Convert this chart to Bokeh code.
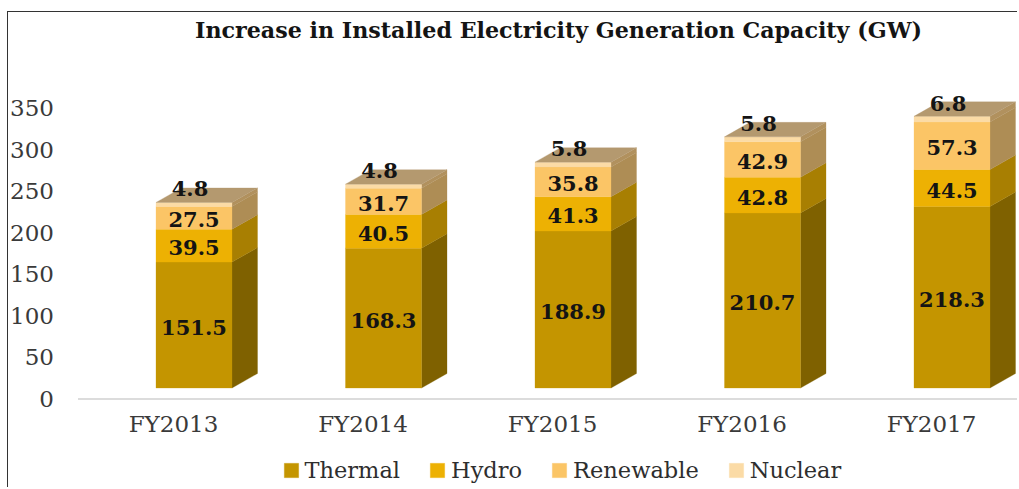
from bokeh.plotting import figure
from bokeh.models import (ColumnDataSource, FixedTicker, Title, Legend, LegendItem, Range1d)
from bokeh.embed import file_html
from bokeh.resources import INLINE
from bokeh.core.properties import value

# ---- data ----
categories = ["FY2013", "FY2014", "FY2015", "FY2016", "FY2017"]
thermal = [151.5, 168.3, 188.9, 210.7, 218.3]
hydro = [39.5, 40.5, 41.3, 42.8, 44.5]
renewable = [27.5, 31.7, 35.8, 42.9, 57.3]
nuclear = [4.8, 4.8, 5.8, 5.8, 6.8]
series_names = ["Thermal", "Hydro", "Renewable", "Nuclear"]
y_ticks = [0, 50, 100, 150, 200, 250, 300, 350]
title_text = "Increase in Installed Electricity Generation Capacity (GW)"

front_colors = ["#C49500", "#EDB103", "#FBC566", "#FBDBA6"]
side_colors = ["#7F6100", "#A87F02", "#AE8D55", "#B1915E"]
top_color = "#B4996F"
FONT = "DejaVu Serif"

# ---- page geometry (px) ----
OX, OY = 8.5, 12.5    # where the canvas starts on the page
W, H = 1010, 476
PX_X = 189.5          # px per category
PX_Y = 0.831          # px per GW
TOP_M = 30
FLOOR_Y = 399 - OY    # canvas y of value 0
FIRST_X = 173.5 - OX  # canvas x of the first category
BAR_W = 76 / PX_X
BAR_SHIFT = 20.5 / PX_X
DX = 25.5 / PX_X
DY = 14.5 / PX_Y
BASE = 11 / PX_Y

p = figure(width=W, height=H, output_backend="svg", toolbar_location=None,
           x_range=Range1d(-FIRST_X / PX_X, (W - FIRST_X) / PX_X),
           y_range=Range1d(-(H - FLOOR_Y) / PX_Y, (FLOOR_Y - TOP_M) / PX_Y),
           min_border_left=0, min_border_right=0,
           min_border_top=TOP_M, min_border_bottom=0,
           background_fill_color="white", border_fill_color="white",
           outline_line_color=None, margin=(11, 0, 0, 7))
p.grid.visible = False

p.title = Title(text=title_text, align="left", offset=195 - OX,
                text_font=FONT, text_font_size="22.2px", text_font_style="bold",
                text_color="#141414", standoff=0)

# ---- floor line ----
p.segment(x0=[(78 - 173.5) / PX_X], x1=[(1019 - 173.5) / PX_X], y0=[0], y1=[0],
          line_color="#DCDCDC", line_width=2)

# ---- 3D columns ----
stacks = [thermal, hydro, renewable, nuclear]
xs_front = [i + BAR_SHIFT for i in range(len(categories))]
bottoms = [BASE] * len(categories)
front_renderers = []
for name, vals, fc, sc in zip(series_names, stacks, front_colors, side_colors):
    tops = [b + v for b, v in zip(bottoms, vals)]
    side_x, side_y = [], []
    for x, b, t in zip(xs_front, bottoms, tops):
        xr = x + BAR_W / 2
        side_x.append([xr, xr + DX, xr + DX, xr])
        side_y.append([b, b + DY, t + DY, t])
    p.patches(side_x, side_y, fill_color=sc, line_color=sc, line_width=0.3)
    r = p.vbar(x=xs_front, bottom=bottoms, top=tops, width=BAR_W,
               fill_color=fc, line_color=fc, line_width=0.3)
    front_renderers.append((name, r))
    bottoms = tops

top_x, top_y = [], []
for x, t in zip(xs_front, bottoms):
    xl, xr = x - BAR_W / 2, x + BAR_W / 2
    top_x.append([xl, xl + DX, xr + DX, xr])
    top_y.append([t, t + DY, t + DY, t])
p.patches(top_x, top_y, fill_color=top_color, line_color=top_color, line_width=0.3)

# ---- data labels ----
def fmt(v):
    return f"{v:.1f}"

bottoms = [BASE] * len(categories)
for k, vals in enumerate(stacks):
    tops = [b + v for b, v in zip(bottoms, vals)]
    if k < 3:
        ys = [(b + t) / 2 for b, t in zip(bottoms, tops)]
        src = ColumnDataSource(dict(x=xs_front, y=ys, t=[fmt(v) for v in vals]))
        xo, yo = 0, 2
    else:
        src = ColumnDataSource(dict(x=xs_front, y=bottoms, t=[fmt(v) for v in vals]))
        xo, yo = -4, -18
    p.text(x="x", y="y", text="t", source=src, x_offset=xo, y_offset=yo,
           text_align="center", text_baseline="middle",
           text_font=value(FONT), text_font_size="21px",
           text_font_style="bold", text_color="#141414")
    bottoms = tops

# ---- axes ----
p.xaxis.ticker = FixedTicker(ticks=list(range(len(categories))))
p.xaxis.major_label_overrides = {i: c for i, c in enumerate(categories)}
p.yaxis.ticker = FixedTicker(ticks=y_ticks)
for ax in (p.xaxis[0], p.yaxis[0]):
    ax.axis_line_color = None
    ax.major_tick_line_color = None
    ax.minor_tick_line_color = None
    ax.major_label_text_font = FONT
    ax.major_label_text_font_size = "23px"
    ax.major_label_text_color = "#3A3A3A"
p.xaxis.major_label_standoff = 6
p.yaxis.major_label_standoff = 4
p.xaxis[0].fixed_location = 0
p.yaxis[0].fixed_location = (64 - 173.5) / PX_X

# ---- legend ----
legend = Legend(items=[LegendItem(label=n, renderers=[r], index=0) for n, r in front_renderers],
                orientation="horizontal",
                location=(282 - OX, H - (483 - OY)),
                glyph_width=18, glyph_height=18, label_standoff=5, spacing=28,
                label_text_font=FONT, label_text_font_size="22.5px",
                label_text_color="#2E2E2E", border_line_color=None,
                background_fill_alpha=0, padding=0, margin=0, label_height=20)
p.add_layout(legend, "center")

# ---- picture frame ----
p.styles = {"border-top": "1.5px solid #333333", "border-left": "1.5px solid #333333"}

open("out.html", "w").write(file_html(p, INLINE))
